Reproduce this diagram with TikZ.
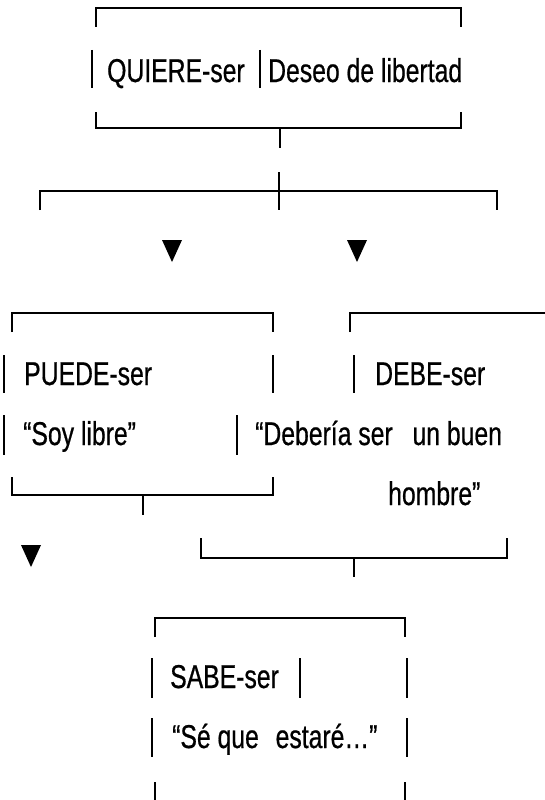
\documentclass[tikz,border=0pt]{standalone}
\usepackage{fontspec}
\newfontfamily\narrowfont[FakeStretch=0.75,FakeBold=0.6]{Liberation Sans}
\begin{document}
\begin{tikzpicture}[x=1pt,y={(0pt,-1pt)},
  brk/.style={line width=2.2pt},
  bar/.style={line width=2.8pt},
  txt/.style={anchor=base west,inner sep=0pt,font=\narrowfont\fontsize{33}{33}\selectfont},
  tri/.style={fill=black}]
\useasboundingbox (0,0) rectangle (545,800);
% ---------- top box ----------
\draw[brk] (96,27) -- (96,8) -- (461,8) -- (461,27);
\draw[bar] (92,50) -- (92,88);
\draw[bar] (260,50) -- (260,88);
\node[txt] (quiere) at (107,82) {QUIERE-ser};
\node[txt] (deseo) at (268,82) {Deseo de libertad};
\draw[brk] (96,112) -- (96,128) -- (461,128) -- (461,112);
\coordinate (topfoot) at (280,128);
\draw[brk] (topfoot) -- ++(0,20);
% ---------- branch ----------
\coordinate (bl) at (40,191);
\coordinate (br) at (497,191);
\draw[brk] (40,210) -- (bl) -- (br) -- (497,210);
\draw[brk] (279,172) -- (279,210);
\fill[tri] (162,240) -- (182,240) -- (172,262) -- cycle;
\fill[tri] (347,240) -- (367,240) -- (357,262) -- cycle;
% ---------- PUEDE box ----------
\draw[brk] (12,332) -- (12,313) -- (273,313) -- (273,332);
\draw[bar] (4,355) -- (4,393);
\draw[bar] (273,355) -- (273,393);
\node[txt] (puede) at (24,385) {PUEDE-ser};
\draw[bar] (4,415) -- (4,455);
\draw[bar] (237,415) -- (237,455);
\node[txt] (soy) at (23,445) {“Soy libre”};
\draw[brk] (12,477) -- (12,495) -- (273,495) -- (273,477);
\draw[brk] (143,495) -- (143,515);
\fill[tri] (21,545) -- (41,545) -- (31,567) -- cycle;
% ---------- DEBE box ----------
\draw[brk] (350,332) -- (350,313) -- (546,313);
\draw[bar] (354,355) -- (354,393);
\node[txt] (debe) at (375,385) {DEBE-ser};
\node[txt] (deberia) at (255,445) {“Debería ser\hspace{0.6em}un buen};
\node[txt] (hombre) at (388,505) {hombre”};
\draw[brk] (201,538) -- (201,558) -- (507,558) -- (507,538);
\draw[brk] (354,558) -- (354,577);
% ---------- SABE box ----------
\draw[brk] (155,637) -- (155,618) -- (405,618) -- (405,637);
\draw[bar] (152,658) -- (152,698);
\draw[bar] (300,658) -- (300,698);
\draw[bar] (407,658) -- (407,698);
\node[txt] (sabe) at (170,688) {SABE-ser};
\draw[bar] (152,718) -- (152,757);
\draw[bar] (407,718) -- (407,757);
\node[txt] (se) at (172,748) {“Sé que\hspace{0.3em} estaré…”};
\draw[brk] (155,782) -- (155,801);
\draw[brk] (405,782) -- (405,801);
\end{tikzpicture}
\end{document}
